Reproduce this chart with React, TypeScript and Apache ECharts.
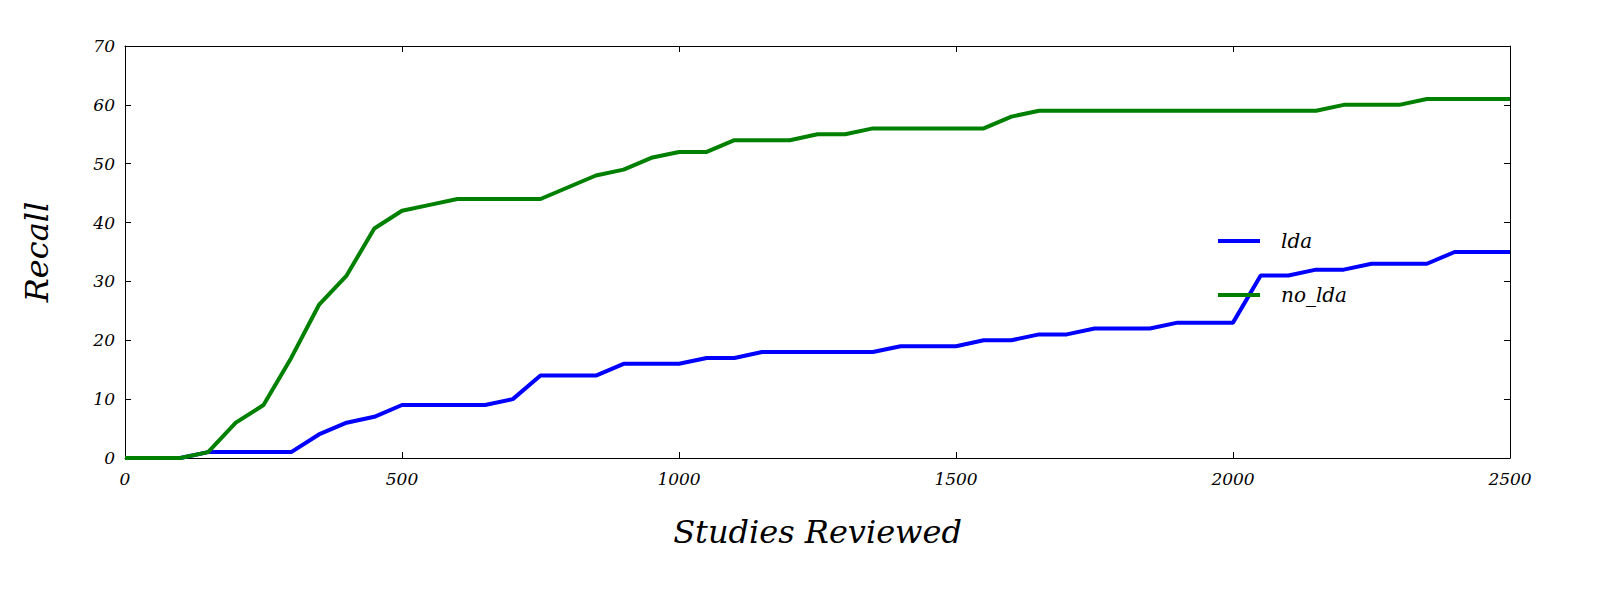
import React, { useEffect, useRef } from "react";
import * as echarts from "echarts";

const xValues = [0,50,100,150,200,250,300,350,400,450,500,550,600,650,700,750,800,850,900,950,1000,1050,1100,1150,1200,1250,1300,1350,1400,1450,1500,1550,1600,1650,1700,1750,1800,1850,1900,1950,2000,2050,2100,2150,2200,2250,2300,2350,2400,2450,2500];
const ldaValues = [0,0,0,1,1,1,1,4,6,7,9,9,9,9,10,14,14,14,16,16,16,17,17,18,18,18,18,18,19,19,19,20,20,21,21,22,22,22,23,23,23,31,31,32,32,33,33,33,35,35,35];
const noLdaValues = [0,0,0,1,6,9,17,26,31,39,42,43,44,44,44,44,46,48,49,51,52,52,54,54,54,55,55,56,56,56,56,56,58,59,59,59,59,59,59,59,59,59,59,59,60,60,60,61,61,61,61];

const font = "'DejaVu Serif', serif";

const App = () => {
  const ref = useRef<HTMLDivElement>(null);

  useEffect(() => {
    document.body.style.margin = "0";
    if (!ref.current) return;
    const chart = echarts.init(ref.current, null, { renderer: "svg" });
    const axisCommon = {
      axisLine: { show: true, onZero: false, lineStyle: { color: "#000", width: 1 } },
      axisTick: { show: true, inside: true, length: 6, lineStyle: { color: "#000" } },
      splitLine: { show: false },
    };
    const labelStyle = { fontFamily: font, fontStyle: "italic", fontSize: 17, color: "#000" };
    chart.setOption({
      animation: false,
      grid: { left: 125, right: 90, top: 46, bottom: 142, outerBoundsMode: "none", containLabel: false },
      legend: {
        left: 1213,
        top: 226,
        orient: "vertical",
        itemWidth: 42,
        itemHeight: 4,
        itemGap: 34,
        icon: "rect",
        textStyle: { fontFamily: font, fontStyle: "italic", fontSize: 20, color: "#000", padding: [0, 0, 0, 16] },
        data: ["lda", "no_lda"],
      },
      xAxis: [
        {
          type: "value", min: 0, max: 2500, interval: 500, ...axisCommon,
          axisLabel: { ...labelStyle, margin: 12, formatter: (v: number) => String(v) },
          name: "Studies Reviewed", nameLocation: "middle", nameGap: 58,
          nameTextStyle: { fontFamily: font, fontStyle: "italic", fontSize: 32, color: "#000" },
        },
        { type: "value", position: "top", min: 0, max: 2500, interval: 500, ...axisCommon, axisLabel: { show: false } },
      ],
      yAxis: [
        {
          type: "value", min: 0, max: 70, interval: 10, ...axisCommon,
          axisLabel: { ...labelStyle, margin: 10 },
          name: "Recall", nameLocation: "middle", nameGap: 72,
          nameTextStyle: { fontFamily: font, fontStyle: "italic", fontSize: 32, color: "#000" },
        },
        { type: "value", position: "right", min: 0, max: 70, interval: 10, ...axisCommon, axisLabel: { show: false } },
      ],
      series: [
        {
          name: "lda", type: "line", showSymbol: false, color: "#0000ff",
          lineStyle: { width: 4 }, data: xValues.map((x, i) => [x, ldaValues[i]]),
        },
        {
          name: "no_lda", type: "line", showSymbol: false, color: "#008000",
          lineStyle: { width: 4 }, data: xValues.map((x, i) => [x, noLdaValues[i]]),
        },
      ],
    });
    return () => chart.dispose();
  }, []);

  return <div ref={ref} style={{ width: 1600, height: 600 }} />;
};

export default App;
